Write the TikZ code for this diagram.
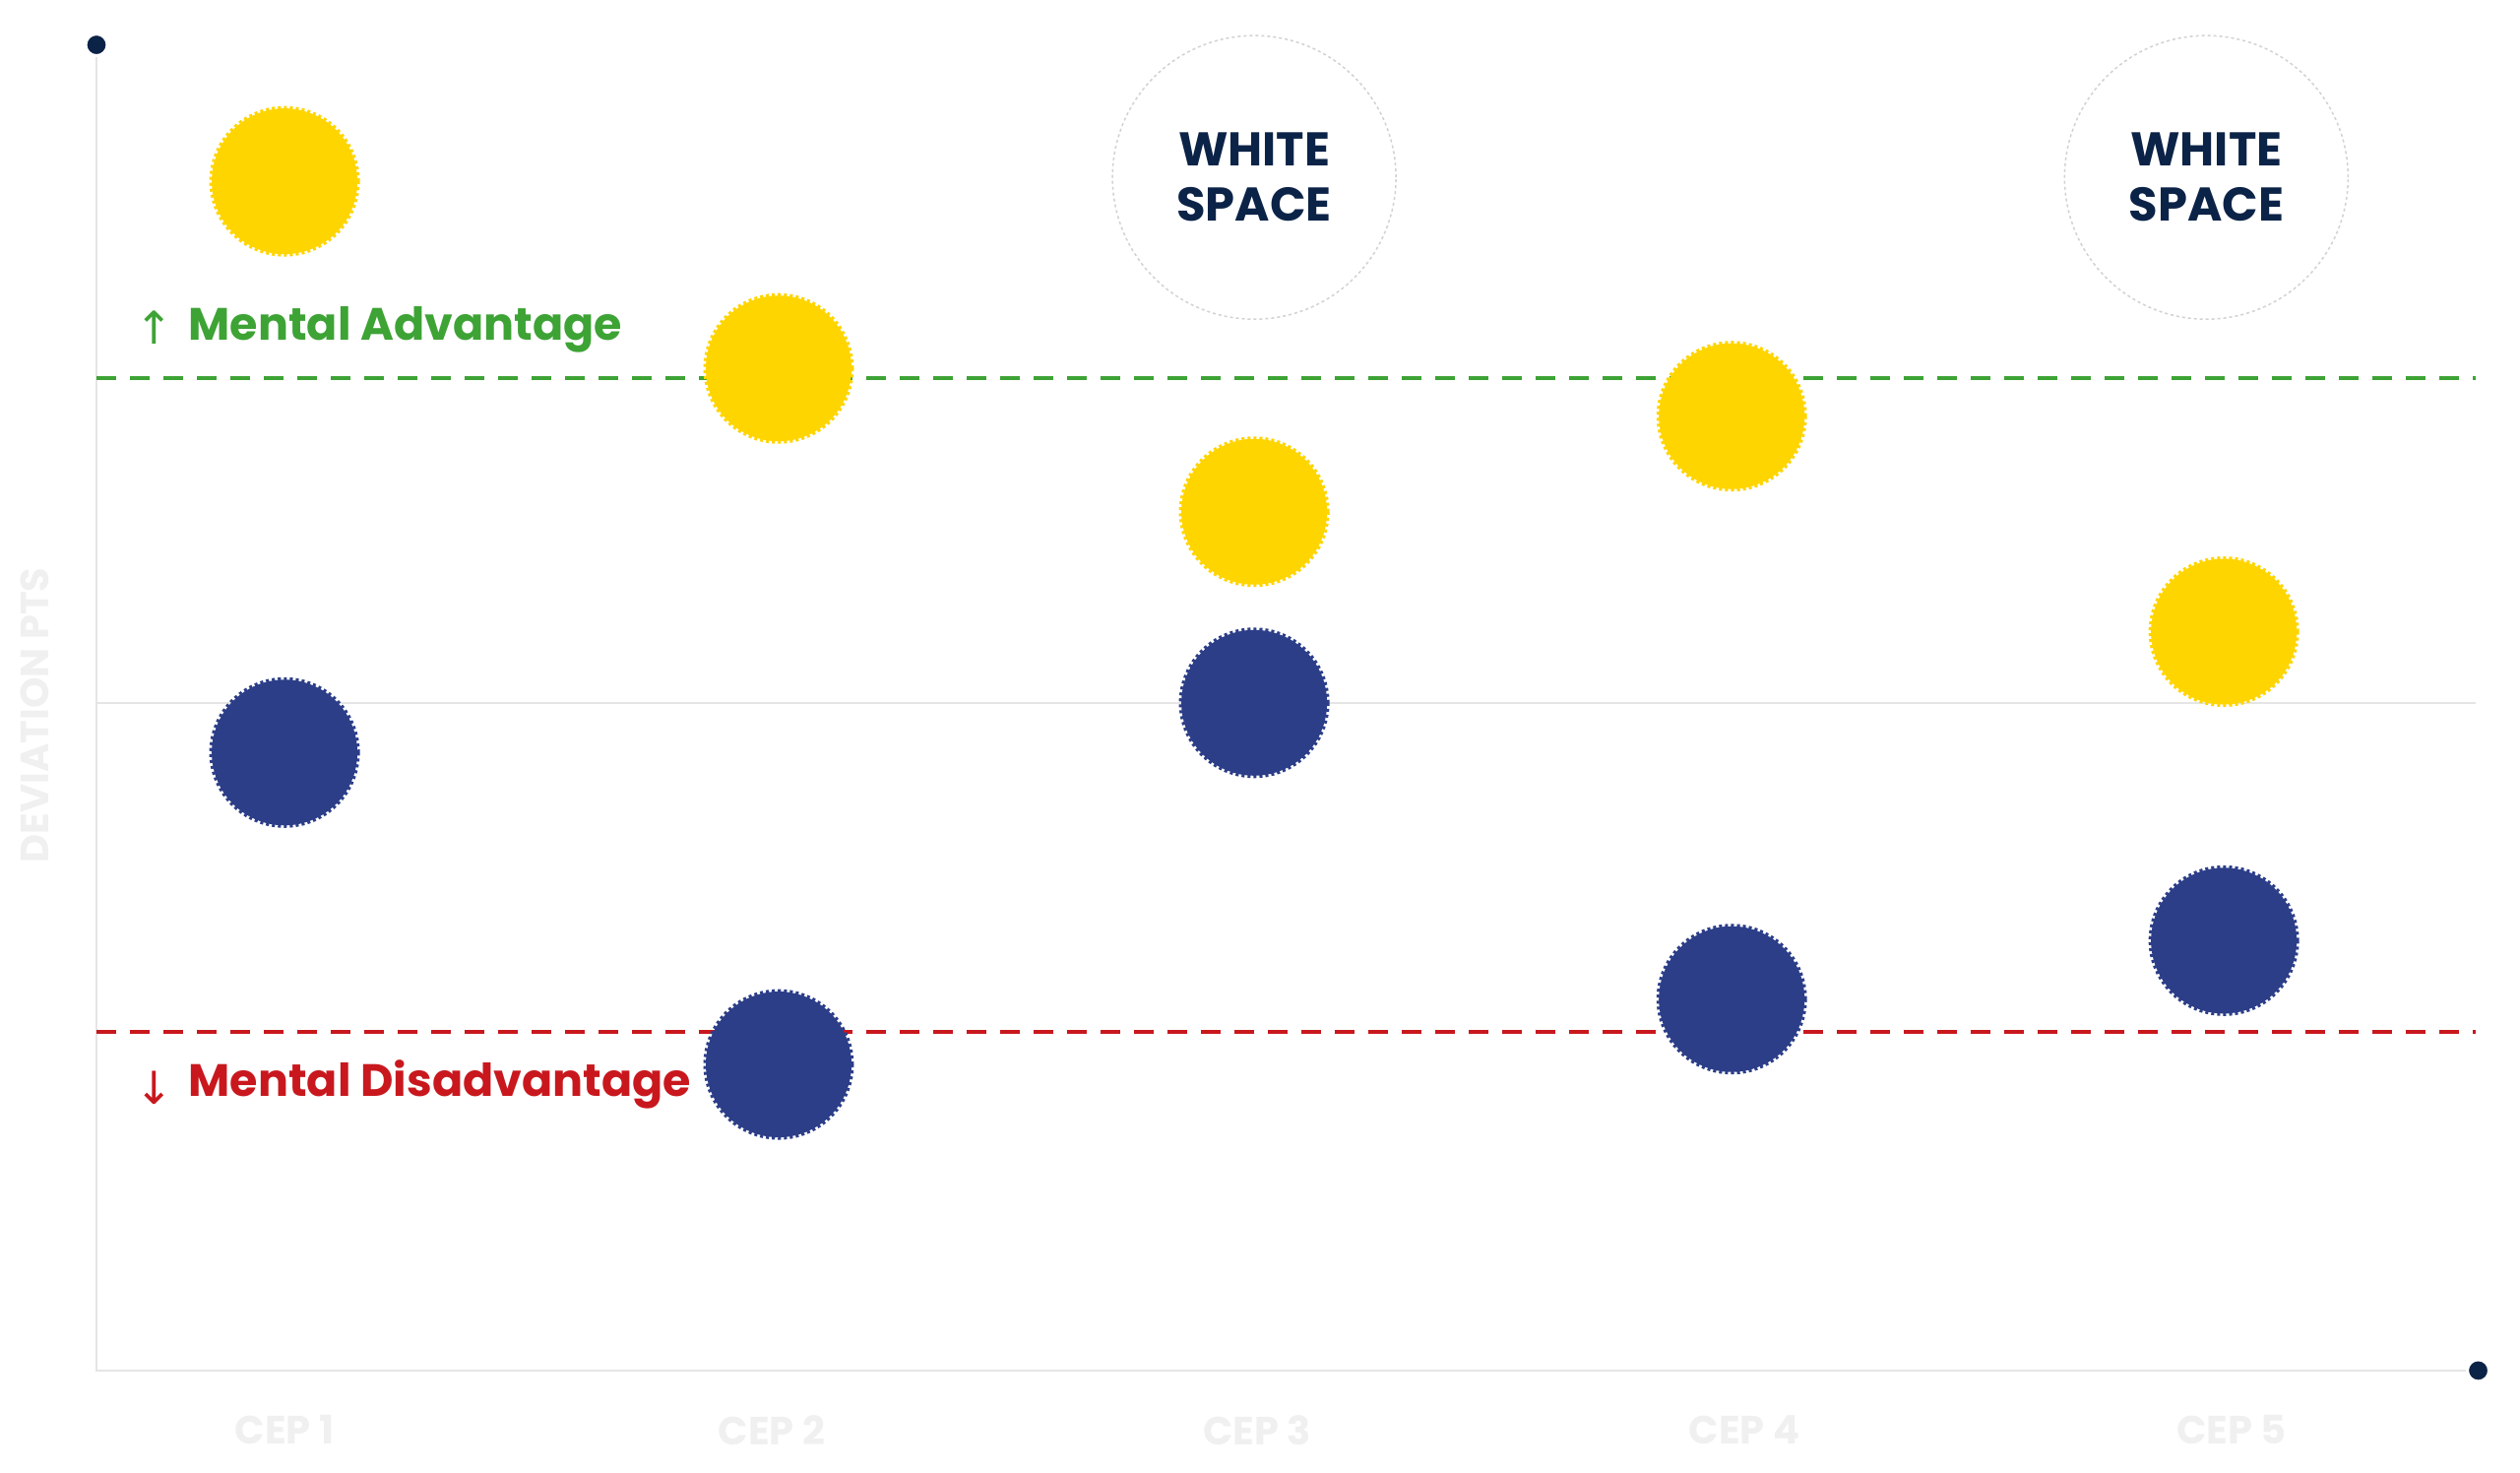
\documentclass[tikz,border=0pt]{standalone}
\usepackage{fontspec}
\setmainfont{Poppins}
\newfontfamily\arrfont{DejaVu Sans}
\begin{document}
\begin{tikzpicture}[x=0.99pt,y=-0.99pt,
  yel/.style={circle,fill=yellowc,draw=yellowc,line width=5pt,dash pattern=on 3pt off 3pt,minimum size=148pt,inner sep=0pt},
  blu/.style={circle,fill=bluec,draw=bluec,line width=5pt,dash pattern=on 3pt off 3pt,minimum size=148pt,inner sep=0pt},
  ws/.style={circle,draw=gray!35,line width=1.5pt,dash pattern=on 3pt off 3pt,minimum size=288pt,inner sep=0pt,align=center,font=\fontsize{48}{56}\selectfont\bfseries,text=navy},
  ax/.style={draw=gray!20,line width=2pt},
  cep/.style={font=\fontsize{40}{48}\selectfont\bfseries,text=gray!12},
  lbl/.style={anchor=west,font=\fontsize{46}{54}\selectfont\bfseries},
  dot/.style={circle,fill=navy,draw=white,line width=3pt,inner sep=0pt,minimum size=22pt}]
\definecolor{yellowc}{HTML}{FFD500}
\definecolor{bluec}{HTML}{2C3E88}
\definecolor{navy}{HTML}{0C2348}
\definecolor{greenc}{HTML}{3DA335}
\definecolor{redc}{HTML}{C8181E}
\useasboundingbox (0,0) rectangle (2585.9,1511.1);
\fill[white] (0,0) rectangle (2585.9,1511.1);
% axes
\coordinate (o) at (99,1406);
\node[dot] (top) at (99,46) {};
\node[dot] (right) at (2543,1406) {};
\draw[ax] (top) -- (o) -- (right);
\coordinate (ml) at (99,721); \coordinate (mr) at (2540,721);
\draw[ax] (ml) -- (mr);
\coordinate (gl) at (99,388); \coordinate (gr) at (2540,388);
\coordinate (rl) at (99,1059); \coordinate (rr) at (2540,1059);
\draw[greenc,line width=4pt,dash pattern=on 20pt off 14pt] (gl) -- (gr);
\draw[redc,line width=4pt,dash pattern=on 20pt off 14pt] (rl) -- (rr);
\node[lbl,text=greenc] (ma) at (190,338) {Mental Advantage};
\node[lbl,text=greenc,font=\fontsize{46}{54}\arrfont] (mau) at (135,336) {↑};
\node[lbl,text=redc] (md) at (190,1113) {Mental Disadvantage};
\node[lbl,text=redc,font=\fontsize{46}{54}\arrfont] (mdd) at (135,1116) {↓};
\node[rotate=90,font=\fontsize{40}{48}\selectfont\bfseries,text=gray!12] (yl) at (36,734) {DEVIATION PTS};
% white space
\node[ws] (w1) at (1287,182) {WHITE\\SPACE};
\node[ws] (w2) at (2264,182) {WHITE\\SPACE};
% bubbles
\node[yel] (y1) at (292,186) {};
\node[yel] (y2) at (799,378) {};
\node[yel] (y3) at (1287,525) {};
\node[yel] (y4) at (1777,427) {};
\node[yel] (y5) at (2282,648) {};
\node[blu] (b1) at (292,772) {};
\node[blu] (b2) at (799,1092) {};
\node[blu] (b3) at (1287,721) {};
\node[blu] (b4) at (1777,1025) {};
\node[blu] (b5) at (2282,965) {};
% labels
\node[cep] (c1) at (292,1467) {CEP 1};
\node[cep] (c2) at (792,1467) {CEP 2};
\node[cep] (c3) at (1290,1467) {CEP 3};
\node[cep] (c4) at (1790,1467) {CEP 4};
\node[cep] (c5) at (2290,1467) {CEP 5};
\end{tikzpicture}
\end{document}
